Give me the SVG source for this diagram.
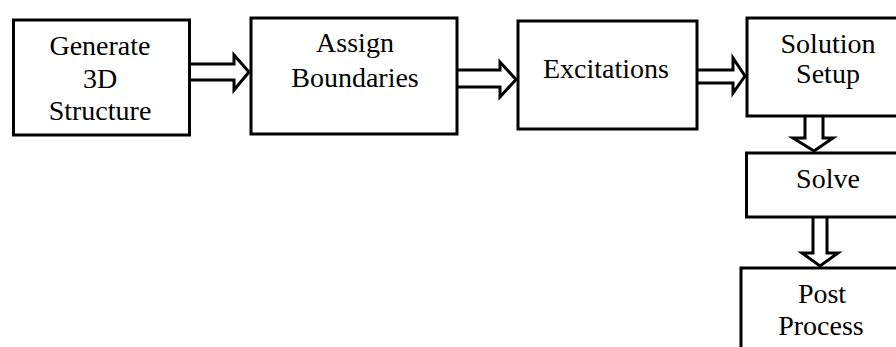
<svg xmlns="http://www.w3.org/2000/svg" width="896" height="347" viewBox="0 0 896 347" font-family="'Liberation Serif', 'DejaVu Serif', serif">
<style>
.box{fill:#fff;stroke:#000;stroke-width:3}
.arr{fill:#fff;stroke:#000;stroke-width:3;stroke-linejoin:miter}
.t{font-family:'Liberation Serif','DejaVu Serif',serif;font-size:28px;fill:#000;text-anchor:middle}
</style>
<rect width="896" height="347" fill="#fff"/>
<g id="connectors">
<path class="arr" d="M190,64 L234,64 L234,55 L249,72 L234,90 L234,80 L190,80"/>
<path class="arr" d="M458,70 L500,70 L500,62 L516,79.5 L500,97 L500,87 L458,87"/>
<path class="arr" d="M698,70 L733,70 L733,58 L745,76 L733,93 L733,83 L698,83"/>
<path class="arr" d="M805,117 L805,138 L793,138 L814,151 L833,138 L823,138 L823,117"/>
<path class="arr" d="M813,218 L813,253 L802,253 L820,266 L838,253 L827,253 L827,218"/>
</g>
<g id="generate">
<rect class="box" x="13.5" y="20" width="176" height="115"/>
<text class="t" x="100" y="55">Generate</text>
<text class="t" x="100" y="88">3D</text>
<text class="t" x="100" y="120">Structure</text>
</g>
<g id="assign">
<rect class="box" x="251" y="18" width="206" height="116"/>
<text class="t" x="355" y="52">Assign</text>
<text class="t" x="355" y="87">Boundaries</text>
</g>
<g id="excitations">
<rect class="box" x="518" y="21" width="179" height="108"/>
<text class="t" x="606" y="78">Excitations</text>
</g>
<g id="setup">
<rect class="box" x="747" y="18" width="160" height="98"/>
<text class="t" x="828" y="53">Solution</text>
<text class="t" x="828" y="83">Setup</text>
</g>
<g id="solve">
<rect class="box" x="746.5" y="153" width="160" height="64"/>
<text class="t" x="828" y="188">Solve</text>
</g>
<g id="post">
<rect class="box" x="741" y="268" width="170" height="100"/>
<text class="t" x="822" y="303">Post</text>
<text class="t" x="821" y="335">Process</text>
</g>
</svg>
